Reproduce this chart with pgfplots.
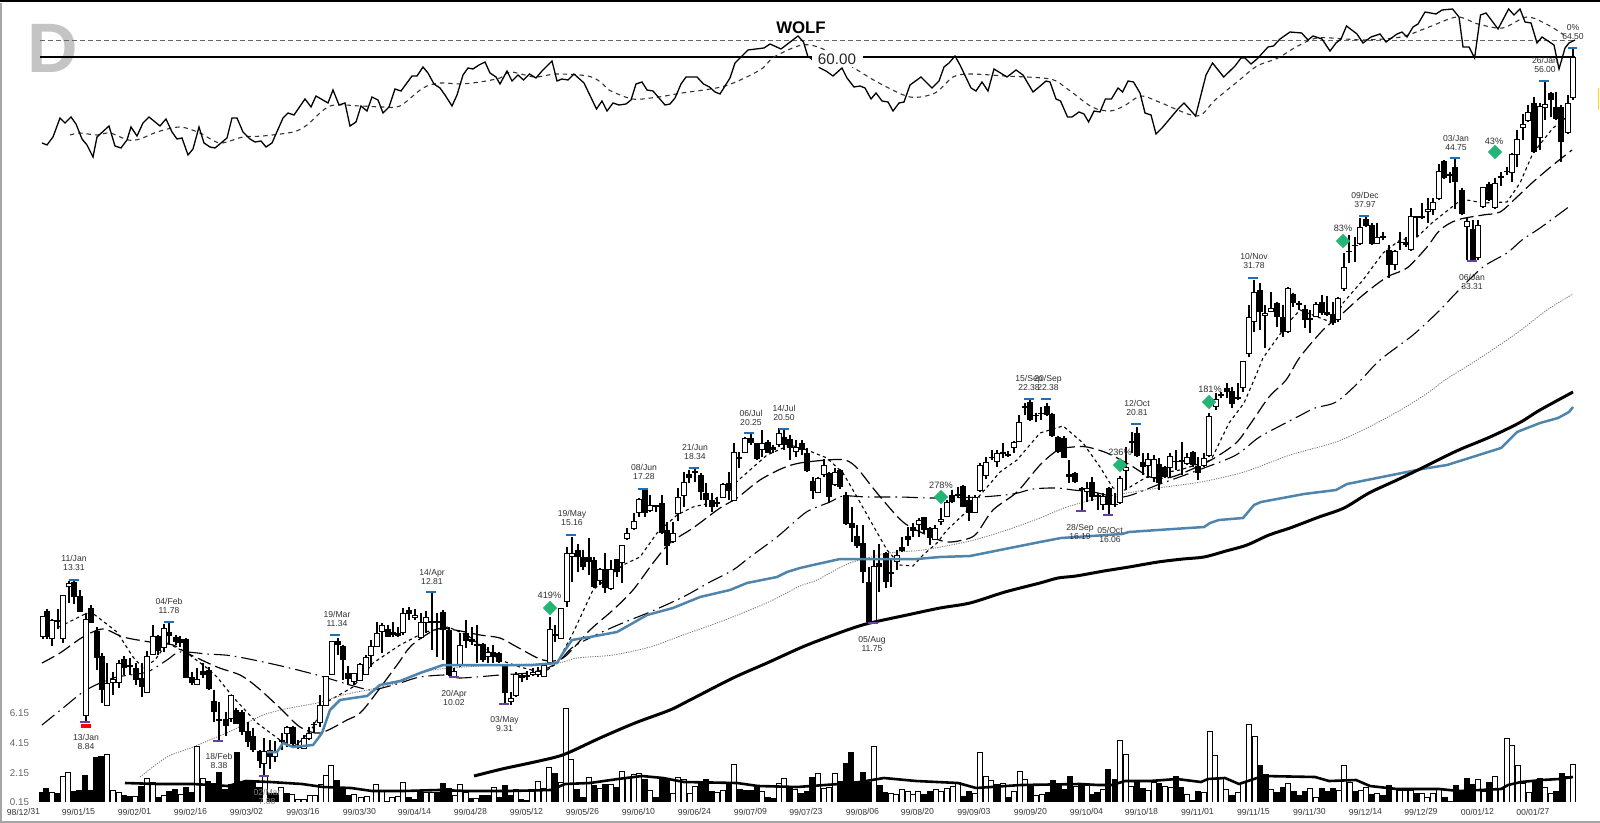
\documentclass[border=0pt]{standalone}
\usepackage{pgfplots}
\usepackage{pgfplotstable}
\usepackage{fontspec}
\setmainfont{Liberation Sans}
\pgfplotsset{compat=1.18}
\definecolor{tickblue}{HTML}{1F6FB2}
\definecolor{tickpurple}{HTML}{6A3FA0}
\definecolor{magreen}{HTML}{22B573}
\definecolor{mablue}{HTML}{4F84AC}
\definecolor{labgray}{HTML}{303030}

\pgfplotstableread{
x hi lo top bot
47 609 639 611 637
58 609 629 620 622
74 581 604 582 597
80 590 612 596 612
91 605 623 608 623
97 627 670 631 658
102 653 703 656 690
124 656 675 659 668
130 658 675 665 667
136 663 685 668 680
142 663 697 678 687
158 635 655 636 651
169 623 644 632 636
176 635 645 637 642
180 636 647 639 643
186 638 678 639 678
192 672 685 677 683
203 663 678 671 675
209 667 690 670 689
214 690 722 701 712
226 712 736 719 726
236 708 724 710 724
242 710 735 712 732
248 722 747 731 742
253 728 752 736 750
260 750 768 751 761
270 740 769 750 757
293 726 747 727 744
298 740 749 746 748
314 722 733 724 725
338 638 655 641 645
343 645 680 646 660
348 666 685 673 679
388 625 637 629 637
393 622 637 632 635
398 627 637 633 636
409 607 620 610 614
432 593 650 621 623
437 613 657 621 623
443 610 660 612 630
449 627 676 630 675
466 620 648 633 641
472 627 645 639 642
477 625 663 644 646
483 643 662 644 660
493 645 663 652 657
499 652 663 653 662
505 665 704 665 693
522 673 682 675 678
527 671 680 675 677
555 625 642 634 636
578 544 572 550 557
583 550 570 557 567
589 538 575 557 562
594 557 588 560 587
605 553 593 569 588
617 559 577 559 572
645 490 517 490 513
656 505 512 505 507
662 495 534 503 533
667 522 565 530 546
689 470 483 474 478
695 468 482 471 473
701 473 500 475 492
706 483 507 493 500
712 493 512 500 507
717 497 507 502 504
729 472 500 483 491
739 452 468 457 459
751 434 445 438 443
757 443 460 443 459
768 440 453 442 453
773 445 453 447 450
784 428 450 437 445
790 435 460 439 448
802 440 455 443 450
807 448 472 453 471
813 477 499 481 491
829 472 503 473 497
840 469 489 470 487
846 492 525 495 524
852 507 542 523 528
857 525 548 536 546
863 525 583 543 572
869 567 623 582 622
879 544 592 563 567
886 552 588 553 582
891 558 587 572 574
902 537 552 547 551
908 527 546 536 540
913 523 537 527 531
924 517 533 517 530
930 527 545 528 538
952 490 503 495 502
963 485 507 486 507
969 495 521 500 513
992 450 460 457 458
1003 443 458 452 454
1008 451 457 454 456
1025 403 415 406 408
1030 400 421 402 420
1036 413 422 415 416
1041 407 420 413 414
1047 403 416 406 415
1052 413 437 414 436
1058 436 453 437 452
1064 436 458 438 458
1069 460 483 474 477
1075 472 483 473 482
1082 487 512 488 490
1092 477 501 482 497
1098 493 510 495 497
1109 487 515 488 505
1115 493 507 504 505
1132 432 453 441 443
1137 427 457 433 456
1143 453 475 462 467
1159 458 490 464 483
1165 466 478 467 477
1176 450 470 461 462
1182 442 475 460 462
1193 451 467 452 465
1198 457 480 466 473
1221 392 398 394 396
1227 383 398 388 392
1232 387 408 391 404
1260 283 330 290 312
1277 302 327 303 317
1283 305 337 317 332
1293 293 307 294 303
1299 301 310 303 305
1305 305 328 309 320
1310 310 333 318 320
1322 295 315 302 313
1327 296 316 312 315
1333 302 325 314 323
1349 235 263 251 252
1355 237 262 245 246
1366 217 227 219 226
1372 223 245 225 244
1383 232 240 236 238
1389 245 278 250 265
1400 232 250 242 243
1406 237 247 242 245
1417 216 237 216 218
1422 203 219 216 218
1444 160 179 161 178
1450 172 183 174 176
1455 157 209 167 182
1462 188 215 190 214
1473 220 262 229 260
1489 182 201 184 200
1501 172 186 176 178
1507 167 175 171 172
1534 97 153 103 152
1551 92 117 93 100
1556 92 120 107 119
1561 105 162 107 142
}\candleblack

\pgfplotstableread{
x hi lo top bot
43 616 639 616 637
52 619 646 620 639
63 595 643 595 639
69 581 603 583 587
86 613 722 619 716
107 663 706 683 706
113 672 695 679 683
119 660 688 663 683
147 651 693 656 693
153 625 655 636 655
164 624 652 628 648
197 668 685 679 685
219 702 740 719 721
231 695 722 695 719
264 738 777 751 764
275 741 762 752 757
282 733 750 740 742
287 726 747 727 734
304 735 749 738 749
309 727 740 733 739
320 695 727 705 723
326 676 706 676 706
332 641 675 641 675
354 673 685 673 682
360 663 681 664 681
366 655 675 657 675
371 640 667 646 656
377 622 647 633 647
382 623 653 625 632
403 608 635 613 633
415 609 620 615 618
421 613 639 622 638
426 611 633 617 623
454 668 678 671 677
460 633 667 645 665
488 647 663 652 657
511 692 705 698 702
516 672 697 674 696
533 668 676 672 675
538 667 677 671 675
544 663 677 665 677
550 617 663 629 663
561 608 639 608 639
567 547 607 553 602
572 537 582 553 557
600 568 585 569 581
611 560 590 569 589
622 545 583 545 563
627 528 540 533 539
634 513 530 521 529
639 498 517 499 513
650 495 512 505 511
673 522 543 533 542
678 488 521 497 514
684 472 507 482 496
723 483 498 484 498
734 443 501 452 501
745 437 453 438 453
762 430 457 443 450
779 428 447 433 445
796 440 457 447 452
818 477 493 478 493
824 459 477 465 475
835 468 486 472 485
874 550 623 566 622
897 550 570 555 562
919 518 537 520 525
935 525 540 528 540
941 508 525 519 522
947 500 517 502 517
958 487 498 494 496
975 495 513 497 513
980 463 492 465 491
986 457 479 462 476
997 450 467 453 462
1014 441 453 442 448
1019 415 442 422 442
1087 482 502 488 492
1103 493 510 496 505
1120 476 504 478 503
1126 447 490 467 471
1148 453 478 459 466
1154 455 482 459 478
1170 453 477 456 468
1187 453 465 457 464
1204 453 467 458 466
1209 413 457 416 456
1216 393 410 399 407
1238 383 400 397 399
1243 361 392 361 388
1249 305 357 317 354
1254 280 332 292 322
1265 305 348 313 316
1271 292 312 308 312
1288 287 333 288 332
1316 302 317 304 317
1338 297 322 298 320
1344 253 291 267 289
1360 218 245 227 244
1377 223 244 237 244
1395 250 270 251 265
1411 208 251 216 250
1428 198 223 209 212
1433 198 215 202 210
1439 164 200 171 199
1467 218 260 221 227
1478 220 260 225 258
1483 187 208 187 207
1495 178 209 183 208
1512 153 182 154 173
1517 130 167 139 155
1523 114 140 124 128
1528 105 122 112 121
1540 103 150 106 138
1545 81 120 104 108
1568 95 134 103 133
1573 48 100 57 98
}\candlewhite

\pgfplotstableread{
x y
42 792
46 788
57 793
74 791
79 790
85 775
91 790
96 757
101 756
124 795
129 796
141 786
158 797
169 791
175 789
186 787
192 792
208 781
214 783
219 772
225 789
231 784
237 752
242 782
248 781
253 782
259 787
270 793
276 793
287 793
337 780
343 787
349 795
409 797
415 799
420 792
437 792
443 783
449 788
472 798
482 795
488 795
499 797
505 785
510 795
521 799
527 800
555 773
577 789
583 797
594 785
605 784
617 787
645 779
656 797
662 778
667 778
701 783
706 779
712 791
729 784
740 789
745 790
751 790
757 786
768 797
773 798
790 788
801 793
807 791
812 777
841 781
846 763
851 752
857 783
863 772
869 782
880 785
885 792
924 794
930 791
964 796
969 791
997 784
1008 797
1031 785
1048 792
1053 780
1059 783
1064 789
1070 776
1081 783
1092 794
1097 792
1108 769
1115 779
1137 782
1143 788
1159 783
1176 776
1181 787
1193 800
1198 791
1232 795
1260 765
1266 774
1277 792
1283 787
1294 791
1299 795
1305 791
1322 788
1327 791
1333 788
1355 791
1372 794
1383 795
1389 785
1417 793
1445 797
1450 801
1456 785
1461 791
1467 778
1473 784
1489 782
1535 782
1540 778
1556 791
1562 773
}\volblack

\pgfplotstableread{
x y
52 792
63 776
68 772
107 754
113 790
119 792
135 796
147 778
153 782
164 795
181 794
197 746
203 778
265 776
281 787
292 794
298 799
304 799
310 795
315 795
321 784
326 775
331 765
354 794
361 797
367 796
376 784
382 791
387 801
392 797
398 796
403 782
426 792
432 792
455 795
460 784
466 792
476 798
494 787
516 789
532 791
538 781
544 788
549 767
561 782
566 708
571 759
589 777
600 788
611 784
622 771
628 778
634 774
639 773
650 790
673 793
678 777
684 779
690 793
695 786
717 792
723 790
734 764
762 791
779 783
784 778
795 789
818 773
824 788
829 787
835 773
874 746
891 793
896 794
902 789
908 791
913 794
918 791
936 789
941 791
947 788
953 786
958 782
975 793
980 752
986 776
991 780
1003 783
1014 791
1020 771
1025 779
1036 795
1042 794
1076 786
1087 785
1103 789
1120 740
1126 754
1131 786
1148 790
1154 782
1165 786
1171 787
1187 794
1204 792
1210 731
1215 755
1221 778
1226 789
1238 792
1243 782
1249 724
1255 736
1271 789
1288 783
1310 788
1316 797
1339 790
1344 765
1350 782
1361 790
1366 787
1377 793
1394 789
1400 790
1405 790
1411 790
1422 793
1427 797
1433 793
1439 788
1478 779
1484 791
1495 776
1501 789
1507 738
1512 745
1518 765
1523 783
1529 792
1545 787
1551 793
1568 776
1573 764
}\volwhite

\pgfplotstableread{
x y
125 783
158 784
193 784
228 786
246 781
270 782
302 784
323 787
351 788
372 791
404 791
439 790
467 791
509 791
551 790
565 784
590 783
618 779
642 776
663 778
684 782
737 783
758 786
797 787
839 784
860 782
884 778
916 781
958 783
976 788
1021 785
1080 784
1098 785
1112 785
1125 781
1150 781
1177 779
1201 782
1208 779
1225 778
1239 784
1263 776
1315 777
1329 781
1356 780
1370 786
1397 789
1439 789
1459 791
1501 789
1508 785
1521 782
1542 780
1559 779
1573 777
}\volma

\pgfplotstableread{
x y
59 627
87 613
95 615
117 632
133 657
143 668
155 660
167 643
187 653
207 668
217 677
233 697
257 723
280 740
293 747
302 740
313 727
325 703
353 687
373 663
400 645
425 632
448 627
467 635
480 645
500 660
520 667
543 673
557 663
573 633
593 590
623 565
640 557
657 533
677 515
693 507
710 503
733 485
767 455
790 445
807 450
827 458
843 473
857 497
870 520
887 550
900 565
913 566
923 555
937 543
947 530
963 515
1000 472
1017 460
1040 433
1063 426
1083 443
1100 467
1113 488
1125 490
1150 475
1180 470
1211 460
1229 423
1244 403
1254 380
1263 358
1288 323
1300 310
1333 323
1343 303
1363 280
1383 253
1400 240
1417 237
1433 222
1457 203
1467 200
1483 203
1507 202
1520 183
1533 153
1553 128
1573 112
}\maA

\pgfplotstableread{
x y
42 663
60 653
83 637
103 629
123 637
150 642
173 645
187 653
217 667
240 675
257 687
280 708
300 727
320 733
347 720
363 710
397 665
412 645
437 629
455 630
480 635
500 638
517 647
543 660
563 658
590 630
613 610
633 590
653 563
670 543
693 528
720 508
737 498
760 480
783 468
800 463
827 460
845 460
857 468
877 493
903 522
927 535
947 542
967 539
977 533
993 510
1017 492
1040 465
1058 450
1073 447
1087 447
1107 453
1130 465
1150 477
1167 478
1183 473
1211 460
1236 443
1251 423
1269 397
1286 380
1300 357
1323 330
1343 313
1363 295
1387 277
1407 268
1427 247
1440 230
1457 220
1483 215
1500 212
1517 197
1533 182
1553 165
1572 150
}\maB

\pgfplotstableread{
x y
42 725
63 708
83 692
100 683
117 677
147 672
167 660
180 652
207 654
233 656
277 665
317 675
350 685
370 690
382 688
400 683
420 677
447 675
460 678
500 675
535 672
557 663
573 647
600 633
625 622
650 612
683 597
710 582
733 570
750 557
777 537
800 517
810 510
830 502
843 496
867 497
900 497
933 498
980 497
1013 494
1033 489
1057 488
1073 490
1093 492
1123 497
1160 484
1204 468
1236 455
1258 438
1276 428
1301 415
1315 408
1336 402
1358 383
1380 360
1413 335
1440 310
1457 292
1483 267
1507 253
1522 240
1540 228
1570 206
}\maC

\pgfplotstableread{
x y
140 777
167 757
193 747
233 730
263 715
290 708
317 703
343 695
367 690
397 683
433 670
500 665
557 663
577 658
613 655
650 647
683 635
717 623
750 610
773 600
800 586
817 580
850 563
890 553
923 550
970 541
1007 530
1040 518
1067 507
1100 498
1133 492
1165 487
1201 482
1244 472
1290 455
1336 442
1369 427
1404 408
1429 392
1445 380
1477 360
1517 333
1547 310
1573 294
}\maD

\pgfplotstableread{
x y
267 752
277 752
283 743
293 747
313 745
322 733
330 710
340 700
353 698
367 696
380 685
400 681
420 673
443 665
467 665
503 665
533 665
557 663
563 653
572 640
590 637
617 632
633 623
647 615
673 608
700 597
730 590
747 583
777 577
787 572
800 568
813 565
840 559
873 559
917 559
940 557
970 556
1020 546
1040 542
1061 538
1122 534
1129 532
1158 530
1204 527
1210 523
1219 520
1243 518
1254 505
1261 502
1304 494
1336 490
1347 484
1422 469
1447 465
1501 448
1517 432
1540 423
1558 418
1569 412
1573 407
}\maE

\pgfplotstableread{
x y
474 776
502 769
530 763
556 757
570 752
600 738
635 723
670 710
690 700
733 678
767 663
800 648
820 640
850 629
870 623
907 615
940 608
970 603
1005 592
1040 583
1058 578
1076 576
1104 571
1129 567
1158 562
1183 559
1204 557
1226 551
1247 545
1269 535
1290 528
1319 517
1344 508
1369 493
1397 480
1422 468
1444 457
1461 449
1490 437
1519 423
1540 410
1573 392
}\maF

\pgfplotstableread{
x y
42 143
47 145
53 137
60 118
65 123
71 117
76 124
82 139
87 145
93 157
97 137
109 126
115 146
121 148
127 140
131 127
137 136
143 123
149 117
160 126
166 119
172 132
177 139
182 138
188 155
193 149
199 127
204 143
210 147
215 148
227 138
232 118
237 118
243 132
250 139
255 142
261 141
266 147
272 143
283 118
288 113
294 115
305 99
311 107
316 96
328 103
333 90
339 105
345 103
350 126
356 122
361 106
367 111
372 97
378 100
383 113
389 107
395 89
401 91
412 76
417 76
423 67
428 73
434 84
440 88
445 95
452 106
457 95
463 75
468 68
473 69
479 65
485 62
490 73
496 77
500 84
507 71
512 81
518 75
523.5 80
529.5 74
536 78
542 71
552 61
557 81
562 79
568 80
574 74
584 83
596.5 109
602 101
607 111
613 103
619 105
626 104
631 100
636 84
642 82
647 90
653 91
665 105
670 104
675 98
681 84
686 77
697 77
703.5 84
709.5 87
715 92
720 94
730 78
735 63
748 50
764 48
770 44
781 49
798 36
803.5 42
808 57
810.5 58
820 68
826 71
833 76
842 68
847 78
854 87
860 86
865 88
871 99
876 93
882 101
888 102
893 111
899 103
904 102
910 85
921 77
932 88
939 81
944 67
949 63
955 56
960 65
971 88
976 91
982 82
988 91
994 69
1007 77
1016 70
1023 75
1033 92
1039 87
1046 81
1050 82
1056 99
1060.5 101
1067.5 117
1072 117
1079 112
1084 114
1088.6 122
1094 111
1100 112
1105.4 99
1111.4 99
1118 88
1122.6 92
1128 81
1133.5 82
1140 93
1145 113
1151 115
1156 134
1162 128
1178 109
1184 103
1195.6 116
1206 75
1212.5 63
1223.7 77
1235 66
1241 58
1245 58
1251 64
1257 59
1268 47
1273.5 46
1280 39
1290 32
1301.6 33
1308 40
1313 36
1322 39
1330 51
1336 43
1341 39
1346.5 26
1357 34
1363 43
1371 37
1380 34
1386 42
1397 34
1402 32
1407 37
1413 27
1418 24
1425 12
1436 14
1442 10
1452.5 9
1459 17
1463 47
1469 47
1474.6 58
1480.5 15
1486 13
1498 29
1508.6 9
1514 15
1520 9
1525 22
1531 23
1537 43
1542 37
1554 45
1559 69
1565 48
1569 43
1575 40
}\rsi

\pgfplotstableread{
x y
70 135
80 133
97 135
110 133
128 140
140 139
157 132
180 127
200 133
220 143
243 137
263 136
293 132
307 125
330 106
360 106
383 107
400 106
423 88
440 83
460 84
480 82
500 78
510.5 72
535 77
556 74
588 76
602 83
609 90
632 99
651 98
665 96
682 93
725 86
760 70
774 57
802 45
823 49
854 68
879 83
910 97
935 93
953 77
970 74
1005 76
1050 79
1067.5 89
1092 107
1110 111
1124 106
1141 96
1159 102
1197 116
1215 100
1239.5 80
1257 66
1278 58
1296 47
1317 38
1345 39
1366 40
1401 37
1429 27
1457 17
1478 24
1502.6 28
1527 17
1548 25
1564 35
}\rsima

\pgfplotstableread{
x y
74 580
169 622
335 635
431 592
571 535
643 489
694 468
749 433
784 429
1029 399
1046 399
1136 424
1253 278
1364 216
1455 158
1544 81
1572.5 48
}\tickhigh

\pgfplotstableread{
x y
85 722
218 741
264 776
454 677
504 704
873 623
1081 511
1108 515
1472 261
}\ticklow

\pgfplotstableread{
x y
550 608
941 497
1120 465
1209 402
1343 241
1495 152
}\signals

\begin{document}
\begin{tikzpicture}[
  lab/.style={font=\fontsize{4.3pt}{4.5pt}\selectfont,text=labgray,align=center,inner sep=0pt},
  pct/.style={font=\fontsize{4.6pt}{5pt}\selectfont,text=labgray,inner sep=0pt}]
\begin{axis}[
  scale only axis,
  width=800pt,height=411.5pt,
  xmin=0,xmax=1600,ymin=0,ymax=823,
  y dir=reverse,
  axis line style={draw=none},
  major tick length=0pt,
  xtick={24,79,135,191,247,303.5,360,415,471,527,583,639,695,751,806.5,863,918,974.5,1031,1087,1142,1198,1254,1310,1366,1421.6,1478,1533.5},
  xticklabels={98/12/31,99/01/15,99/02/01,99/02/16,99/03/02,99/03/16,99/03/30,99/04/14,99/04/28,99/05/12,99/05/26,99/06/10,99/06/24,99/07/09,99/07/23,99/08/06,99/08/20,99/09/03,99/09/20,99/10/04,99/10/18,99/11/01,99/11/15,99/11/30,99/12/14,99/12/29,00/01/12,00/01/27},
  xticklabel pos=lower,
  xticklabel style={anchor=center,rotate=3,yshift=5.5pt,font=\fontsize{4.25pt}{5pt}\selectfont,text=labgray,inner sep=0pt},
  ytick={713,743,773,802},
  yticklabels={6.15,4.15,2.15,0.15},
  yticklabel style={anchor=center,xshift=9.75pt,font=\fontsize{4.9pt}{5pt}\selectfont,text=black!60,inner sep=0pt},
  clip=false,
  error bars/error mark=none,
  hidemark/.style={only marks,mark=*,mark size=0pt,mark options={draw=none,fill=none},forget plot},
]
% frame
\addplot[gray!70,line width=0.8pt,forget plot] coordinates {(0.8,3) (0.8,821.8) (1600,821.8)};
\addplot[black,line width=0.7pt,forget plot] coordinates {(0,1) (1600,1)};
\addplot[yellow!80!orange,line width=0.6pt,forget plot] coordinates {(1598.5,88) (1598.5,110)};

% big letter
\node[font=\fontsize{35pt}{35pt}\bfseries\selectfont,text=black!23,inner sep=0pt] at (axis cs:53,48) {D};

% RSI panel
\addplot[black!60,line width=0.6pt,dash pattern=on 2.6pt off 1.4pt,forget plot] coordinates {(40,40.7) (1576,40.7)};
\addplot[black,line width=0.9pt,forget plot] coordinates {(40,57.3) (1575,57.3)};
\addplot[black!80,line width=0.55pt,dash pattern=on 2.2pt off 2pt,smooth,forget plot] table[x=x,y=y] {\rsima};
\addplot[black,line width=0.65pt,forget plot] table[x=x,y=y] {\rsi};
\node[fill=white,inner sep=0pt,minimum width=25.5pt,minimum height=8pt,font=\fontsize{7.6pt}{8pt}\selectfont,text=black!85] at (axis cs:837,59) {60.00};
\node[font=\fontsize{8.4pt}{9pt}\bfseries\selectfont,inner sep=0pt] at (axis cs:801,28) {WOLF};

% moving averages under the candles
\addplot[black,line width=0.55pt,dash pattern=on 1.6pt off 1.6pt,forget plot] table[x=x,y=y] {\maA};
\addplot[black,line width=0.6pt,dash pattern=on 7pt off 2.5pt,smooth,forget plot] table[x=x,y=y] {\maB};
\addplot[black,line width=0.55pt,dash pattern=on 8pt off 2.5pt on 0.8pt off 2.5pt,smooth,forget plot] table[x=x,y=y] {\maC};
\addplot[black!55,line width=0.4pt,dash pattern=on 0.6pt off 0.6pt,smooth,forget plot] table[x=x,y=y] {\maD};

% wicks
\addplot[hidemark,error bars/.cd,y dir=plus,y explicit,error bar style={line width=0.7pt,black}]
  table[x=x,y=hi,y error plus expr=\thisrow{lo}-\thisrow{hi}] {\candleblack};
\addplot[hidemark,error bars/.cd,y dir=plus,y explicit,error bar style={line width=0.7pt,black}]
  table[x=x,y=hi,y error plus expr=\thisrow{lo}-\thisrow{hi}] {\candlewhite};
% black bodies
\addplot[hidemark,error bars/.cd,y dir=plus,y explicit,error bar style={line width=2.7pt,black}]
  table[x=x,y=top,y error plus expr=\thisrow{bot}-\thisrow{top}] {\candleblack};
% white bodies: outline then interior
\addplot[hidemark,error bars/.cd,y dir=plus,y explicit,error bar style={line width=2.9pt,black}]
  table[x=x,y=top,y error plus expr=\thisrow{bot}-\thisrow{top}] {\candlewhite};
\addplot[hidemark,error bars/.cd,y dir=plus,y explicit,error bar style={line width=1.7pt,white}]
  table[x=x,y expr=\thisrow{top}+1.2,y error plus expr={max(\thisrow{bot}-\thisrow{top}-2.4,0)}] {\candlewhite};

% volume
\addplot[hidemark,error bars/.cd,y dir=plus,y explicit,error bar style={line width=2.6pt,black}]
  table[x=x,y=y,y error plus expr=801.7-\thisrow{y}] {\volblack};
\addplot[hidemark,error bars/.cd,y dir=plus,y explicit,error bar style={line width=2.8pt,black}]
  table[x=x,y=y,y error plus expr=801.7-\thisrow{y}] {\volwhite};
\addplot[hidemark,error bars/.cd,y dir=plus,y explicit,error bar style={line width=1.6pt,white}]
  table[x=x,y expr=\thisrow{y}+1.2,y error plus expr=800.5-\thisrow{y}] {\volwhite};
\addplot[black,line width=1.3pt,forget plot] table[x=x,y=y] {\volma};

% long averages on top
\addplot[mablue,line width=1.25pt,forget plot] table[x=x,y=y] {\maE};
\addplot[black,line width=1.5pt,smooth,forget plot] table[x=x,y=y] {\maF};

% high, low and signal marks
\addplot[only marks,mark=-,mark size=2.4pt,mark options={draw=tickblue,line width=1.3pt},forget plot] table[x=x,y=y] {\tickhigh};
\addplot[only marks,mark=-,mark size=2.4pt,mark options={draw=tickpurple,line width=1.3pt},forget plot] table[x=x,y=y] {\ticklow};
\addplot[only marks,mark=-,mark size=2.7pt,mark options={draw=red,line width=1.6pt},forget plot] coordinates {(86,726)};
\addplot[only marks,mark=square*,mark size=2.3pt,mark options={rotate=45,draw=magreen,fill=magreen},forget plot] table[x=x,y=y] {\signals};

% labels
\node[lab] at (axis cs:74,563) {11/Jan\\13.31};
\node[lab] at (axis cs:169,606) {04/Feb\\11.78};
\node[lab] at (axis cs:337,618.5) {19/Mar\\11.34};
\node[lab] at (axis cs:432,576.5) {14/Apr\\12.81};
\node[lab] at (axis cs:572,518) {19/May\\15.16};
\node[lab] at (axis cs:644,472) {08/Jun\\17.28};
\node[lab] at (axis cs:695,451.5) {21/Jun\\18.34};
\node[lab] at (axis cs:751,417.5) {06/Jul\\20.25};
\node[lab] at (axis cs:784,412.5) {14/Jul\\20.50};
\node[lab] at (axis cs:1029,383) {15/Sep\\22.38};
\node[lab] at (axis cs:1048,383) {20/Sep\\22.38};
\node[lab] at (axis cs:1137,407.5) {12/Oct\\20.81};
\node[lab] at (axis cs:1254,260.5) {10/Nov\\31.78};
\node[lab] at (axis cs:1365,199.5) {09/Dec\\37.97};
\node[lab] at (axis cs:1456,142.5) {03/Jan\\44.75};
\node[lab] at (axis cs:1545,65) {26/Jan\\56.00};
\node[lab] at (axis cs:1573,32.5) {0\%\\64.50};
\node[lab] at (axis cs:86,741.5) {13/Jan\\8.84};
\node[lab] at (axis cs:219,761) {18/Feb\\8.38};
\node[lab,text=black!50] at (axis cs:267,797) {02/Mar\\7.88};
\node[lab] at (axis cs:454,698) {20/Apr\\10.02};
\node[lab] at (axis cs:504.5,724) {03/May\\9.31};
\node[lab] at (axis cs:872,644) {05/Aug\\11.75};
\node[lab] at (axis cs:1080,531.5) {28/Sep\\16.19};
\node[lab] at (axis cs:1110,534.5) {05/Oct\\16.06};
\node[lab] at (axis cs:1472,281.5) {06/Jan\\33.31};
\node[pct] at (axis cs:549.5,595) {419\%};
\node[pct] at (axis cs:941,485) {278\%};
\node[pct] at (axis cs:1120,452) {236\%};
\node[pct] at (axis cs:1210,389) {181\%};
\node[pct] at (axis cs:1343,228) {83\%};
\node[pct] at (axis cs:1494,141) {43\%};
\end{axis}
\pgfresetboundingbox
\path[use as bounding box] (0,0) rectangle (800pt,411.5pt);
\end{tikzpicture}
\end{document}
